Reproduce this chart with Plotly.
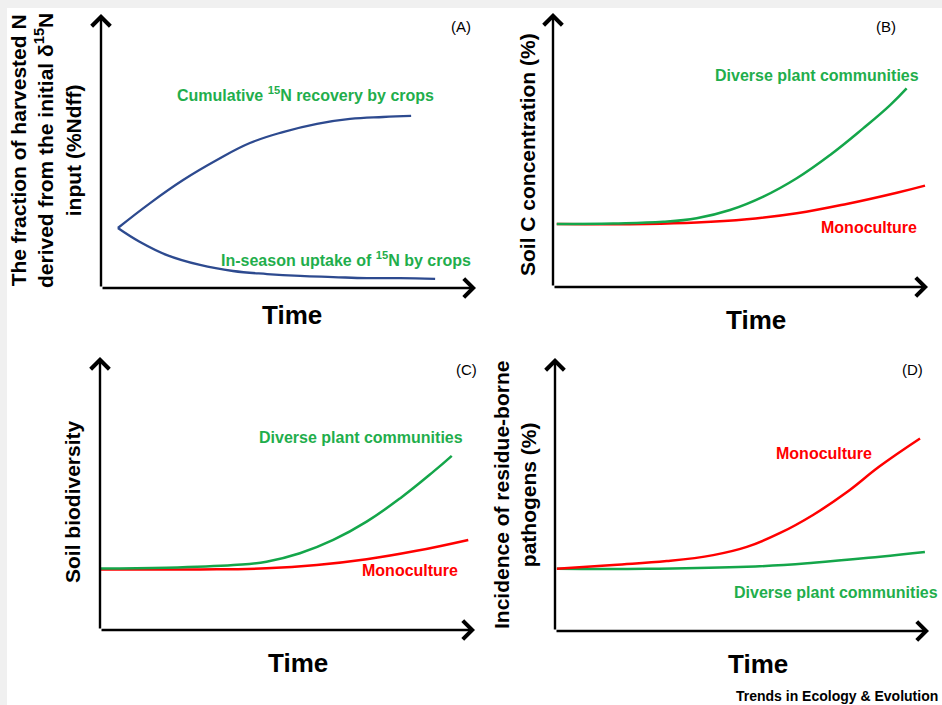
import plotly.graph_objects as go

W, H = 942, 705

# ---------------- data (time 0-100, value 0-100, arbitrary units) ----------------
a_time_cum = [4.5, 13.1, 21.9, 30.9, 39.7, 48.5, 57.6, 66.4, 75.2, 82.7]
a_val_cum = [21.9, 31.0, 39.4, 46.7, 52.9, 56.9, 59.9, 61.7, 62.4, 62.8]
a_time_ins = [4.5, 10.4, 17.6, 26.4, 35.2, 44.3, 53.1, 61.9, 70.9, 79.7, 89.1]
a_val_ins = [21.9, 16.8, 12.0, 8.4, 6.2, 5.1, 4.4, 4.0, 3.6, 3.6, 3.3]

b_time_div = [1.0, 16.1, 29.4, 38.3, 47.2, 56.1, 65.0, 73.9, 82.7, 89.9, 94.3]
b_val_div = [23.0, 23.2, 23.8, 25.1, 28.1, 33.0, 39.7, 48.2, 57.9, 66.4, 72.5]
b_time_mono = [1.0, 25.0, 38.3, 51.7, 65.0, 78.3, 91.7, 99.2]
b_val_mono = [23.0, 23.0, 23.5, 24.7, 26.9, 30.3, 34.4, 37.0]

c_time_div = [0.0, 17.8, 35.6, 44.4, 53.3, 62.2, 71.1, 80.0, 88.9, 93.8]
c_val_div = [22.5, 22.8, 23.8, 25.0, 28.1, 33.0, 39.7, 48.2, 58.0, 63.8]
c_time_mono = [0.0, 26.7, 44.4, 57.8, 71.1, 84.4, 98.2]
c_val_mono = [22.2, 22.2, 22.6, 23.8, 25.9, 29.0, 33.0]

d_time_mono = [0.5, 15.6, 29.9, 42.3, 51.3, 60.2, 69.1, 78.0, 86.9, 97.6]
d_val_mono = [22.8, 24.2, 25.6, 27.8, 30.8, 35.9, 42.6, 50.8, 60.4, 70.5]
d_time_div = [0.5, 24.5, 51.3, 69.1, 86.9, 98.9]
d_val_div = [22.8, 22.8, 23.5, 25.0, 27.2, 28.9]

panel_letters = ["(A)", "(B)", "(C)", "(D)"]
x_title = "Time"
y_titles = [
    "The fraction of harvested N<br>derived from the initial δ<sup>15</sup>N<br>input (%Ndff)",
    "Soil C concentration (%)",
    "Soil biodiversity",
    "Incidence of residue-borne<br>pathogens (%)",
]
lbl_cum = "Cumulative <sup>15</sup>N recovery by crops"
lbl_ins = "In-season uptake of <sup>15</sup>N by crops"
lbl_div = "Diverse plant communities"
lbl_mono = "Monoculture"
credit = "Trends in Ecology &amp; Evolution"

BLUE = "#2d4a8f"
GREEN_L = "#14a64a"
GREEN_T = "#1fae4c"
RED = "#ff0000"
FONT = "Liberation Sans, Arial, sans-serif"

# panel pixel geometry: (x origin, x end, y origin(bottom), y top)
panels = [
    (101, 476, 288, 14),
    (553, 928, 287, 13),
    (100, 475, 630, 357),
    (555, 929, 631, 358),
]


def px(x):
    return x / W


def py(y):
    return 1 - y / H


fig = go.Figure()

series = [
    [(a_time_cum, a_val_cum, BLUE, 2.3), (a_time_ins, a_val_ins, BLUE, 2.3)],
    [(b_time_mono, b_val_mono, RED, 2.5), (b_time_div, b_val_div, GREEN_L, 2.5)],
    [(c_time_mono, c_val_mono, RED, 2.5), (c_time_div, c_val_div, GREEN_L, 2.5)],
    [(d_time_div, d_val_div, GREEN_L, 2.5), (d_time_mono, d_val_mono, RED, 2.5)],
]

annotations = []
for i, (x0, x1, y0, y1) in enumerate(panels):
    sfx = "" if i == 0 else str(i + 1)
    xa, ya = "x" + sfx, "y" + sfx
    axis_common = dict(showgrid=False, zeroline=False, showticklabels=False,
                       ticks="", showline=False, range=[0, 100], fixedrange=True)
    fig.layout["xaxis" + sfx] = dict(domain=[px(x0), px(x1)], anchor=ya, **axis_common)
    fig.layout["yaxis" + sfx] = dict(domain=[py(y0), py(y1)], anchor=xa, **axis_common)
    for xs, ys, col, lw in series[i]:
        fig.add_trace(go.Scatter(x=xs, y=ys, mode="lines", xaxis=xa, yaxis=ya,
                                 line=dict(color=col, width=lw, shape="spline", smoothing=1.2),
                                 showlegend=False, hoverinfo="skip", cliponaxis=False))
    # axes with arrows
    for tip, tail in (((0, 100), (0, 0)), ((100, 0), (0, 0))):
        annotations.append(dict(x=tip[0], y=tip[1], ax=tail[0], ay=tail[1],
                                xref=xa, yref=ya, axref=xa, ayref=ya, text="",
                                font=dict(size=10),
                                showarrow=True, arrowhead=4, arrowsize=1.5,
                                arrowwidth=2.4, arrowcolor="black", standoff=0))


def txt(text, x, y, size, color="black", bold=True, angle=0, family=FONT, xanchor="center"):
    t = f"<b>{text}</b>" if bold else text
    annotations.append(dict(text=t, x=px(x), y=py(y), xref="paper", yref="paper",
                            showarrow=False, xanchor=xanchor, yanchor="middle",
                            textangle=angle, font=dict(family=family, size=size, color=color)))


# panel letters
for lt, (x, y) in zip(panel_letters, [(461, 26), (886, 26), (466, 369), (912, 369)]):
    txt(lt, x, y, 15, bold=False)

# x titles
for (x, y) in [(292, 315), (756, 320), (298, 663), (758, 664)]:
    txt(x_title, x, y, 26)

# y titles
txt(y_titles[0], 46, 151, 21, angle=-90)
txt(y_titles[1], 527, 155, 21, angle=-90)
txt(y_titles[2], 72, 502, 21, angle=-90)
txt(y_titles[3], 515, 495, 21, angle=-90)

# curve labels
txt(lbl_cum, 305, 94, 16, GREEN_T)
txt(lbl_ins, 346, 259, 16, GREEN_T)
txt(lbl_div, 817, 75, 16, GREEN_T)
txt(lbl_mono, 869, 227, 16, RED)
txt(lbl_div, 361, 437, 16, GREEN_T)
txt(lbl_mono, 410, 570, 16, RED)
txt(lbl_mono, 824, 453, 16, RED)
txt(lbl_div, 940, 592, 16, GREEN_T, xanchor="right")

# journal credit
txt(credit, 940, 696, 14, xanchor="right")

fig.update_layout(
    width=W, height=H,
    margin=dict(l=0, r=0, t=0, b=0),
    paper_bgcolor="#f0f0f0",
    plot_bgcolor="rgba(0,0,0,0)",
    annotations=annotations,
    shapes=[dict(type="rect", xref="paper", yref="paper", x0=px(7), x1=1, y0=0, y1=py(8),
                 fillcolor="white", line=dict(width=0), layer="below")],
    showlegend=False,
)

fig.write_html("out.html", config={"displayModeBar": False},
               post_script="document.body.style.margin='0';document.body.style.overflow='hidden';")
